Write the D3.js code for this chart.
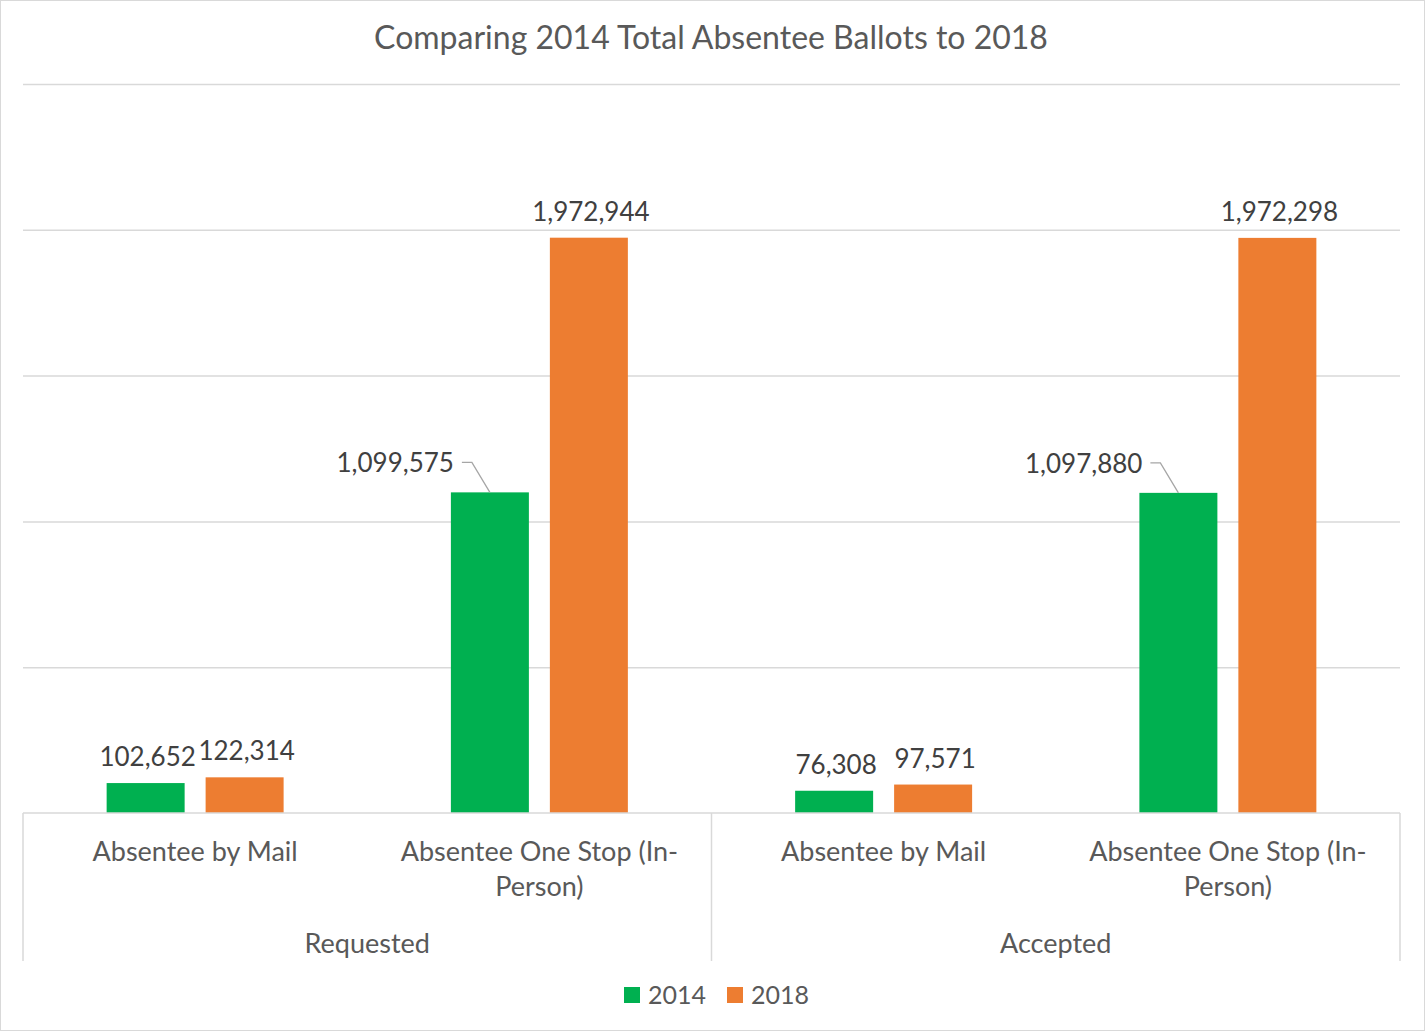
<!DOCTYPE html>
<html>
<head>
<meta charset="utf-8">
<script src="https://cdn.jsdelivr.net/npm/d3@7"></script>
<style>
  body { margin: 0; background: #fff; }
  text { font-family: Lato, "Open Sans", sans-serif; }
</style>
</head>
<body>
<div id="chart"></div>
<script>
// chart values
const groups = ["Requested", "Accepted"];
const types = ["Absentee by Mail", "Absentee One Stop (In-Person)"];
const typeLabels = [["Absentee by Mail"], ["Absentee One Stop (In-", "Person)"]];
const years = ["2014", "2018"];
const values2014 = [102652, 1099575, 76308, 1097880];
const values2018 = [122314, 1972944, 97571, 1972298];
const yTicks = [0, 500000, 1000000, 1500000, 2000000, 2500000];

const W = 1425, H = 1031;
const margin = {top: 84, right: 25, bottom: 218, left: 23},
    width = W - margin.left - margin.right,
    height = H - margin.top - margin.bottom;

const textColor = "#595959", labelColor = "#404040", gridColor = "#d9d9d9";
const color = d3.scaleOrdinal().domain(years).range(["#00b050", "#ed7d31"]);

// one row per category (group x type)
const rows = [];
groups.forEach((g, gi) => types.forEach((t, ti) => {
  const i = gi * types.length + ti;
  rows.push({key: g + "|" + t, group: g, type: t, ti: ti, "2014": values2014[i], "2018": values2018[i]});
}));

const svg0 = d3.select("#chart").append("svg")
    .attr("width", W).attr("height", H);

svg0.append("rect")
    .attr("x", 0.5).attr("y", 0.5)
    .attr("width", W - 1).attr("height", H - 1)
    .attr("fill", "#fff").attr("stroke", gridColor);

// title
svg0.append("text")
    .attr("x", 711).attr("y", 49)
    .attr("text-anchor", "middle")
    .attr("font-size", 32)
    .attr("fill", textColor)
    .text("Comparing 2014 Total Absentee Ballots to 2018");

const svg = svg0.append("g")
    .attr("transform", `translate(${margin.left},${margin.top})`);

const x = d3.scaleBand()
    .domain(rows.map(d => d.key))
    .range([0, width]);

const xSub = d3.scaleBand()
    .domain(years)
    .range([0, x.bandwidth()])
    .paddingInner(0.212)
    .paddingOuter(0.845);

const y = d3.scaleLinear()
    .domain([0, 2500000])
    .range([height, 0]);

// gridlines
svg.append("g")
    .call(d3.axisLeft(y).tickValues(yTicks.slice(1)).tickSize(-width).tickFormat(""))
    .call(g => g.select(".domain").remove())
    .call(g => g.selectAll("line").attr("stroke", gridColor).attr("stroke-width", 1.5));

// bars
const cat = svg.append("g")
  .selectAll("g")
  .data(rows)
  .join("g")
    .attr("transform", d => `translate(${x(d.key)},0)`);

cat.selectAll("rect")
  .data(d => years.map(yr => ({year: yr, value: d[yr], row: d})))
  .join("rect")
    .attr("x", d => xSub(d.year))
    .attr("y", d => y(d.value))
    .attr("width", xSub.bandwidth())
    .attr("height", d => y(0) - y(d.value))
    .attr("fill", d => color(d.year));

// data labels (2014 one stop labels sit to the left with a leader line)
const fmt = d3.format(",");
cat.selectAll("text.val")
  .data(d => years.map(yr => ({year: yr, value: d[yr], row: d})))
  .join("text")
    .attr("class", "val")
    .attr("font-size", 26)
    .attr("fill", labelColor)
    .each(function(d) {
      const cx = xSub(d.year) + xSub.bandwidth() / 2;
      const top = y(d.value);
      const t = d3.select(this);
      if (d.year === "2014" && d.row.ti === 1) {
        t.attr("x", cx - 36).attr("y", top - 20).attr("text-anchor", "end");
        d3.select(this.parentNode).append("path")
          .attr("d", `M${cx - 28},${top - 30}H${cx - 18}L${cx},${top}`)
          .attr("fill", "none").attr("stroke", "#a6a6a6").attr("stroke-width", 1.3);
      } else {
        t.attr("x", cx + 2).attr("y", top - 17).attr("text-anchor", "middle");
      }
    })
    .text(d => fmt(d.value));

// category axis
const axis = svg.append("g").attr("transform", `translate(0,${height})`);
axis.append("line")
    .attr("x1", 0).attr("x2", width)
    .attr("stroke", gridColor).attr("stroke-width", 1.5);

const sep = [0].concat(groups.map((g, gi) => x(rows[gi * types.length].key) + x.bandwidth() * types.length));
axis.selectAll("line.sep")
  .data(sep)
  .join("line")
    .attr("class", "sep")
    .attr("x1", d => d).attr("x2", d => d)
    .attr("y1", 0).attr("y2", 148)
    .attr("stroke", gridColor).attr("stroke-width", 1.5);

axis.selectAll("text.cat")
  .data(rows)
  .join("text")
    .attr("class", "cat")
    .attr("text-anchor", "middle")
    .attr("font-size", 27)
    .attr("fill", textColor)
    .attr("transform", d => `translate(${x(d.key) + x.bandwidth() / 2},48)`)
  .selectAll("tspan")
  .data(d => typeLabels[d.ti])
  .join("tspan")
    .attr("x", 0)
    .attr("dy", (d, i) => i === 0 ? 0 : 35)
    .text(d => d);

axis.selectAll("text.grp")
  .data(groups)
  .join("text")
    .attr("class", "grp")
    .attr("text-anchor", "middle")
    .attr("font-size", 27)
    .attr("fill", textColor)
    .attr("x", (g, gi) => x(rows[gi * types.length].key) + x.bandwidth() * types.length / 2)
    .attr("y", 140)
    .text(d => d);

// legend
const legend = svg0.append("g")
  .selectAll("g")
  .data(years)
  .join("g")
    .attr("transform", (d, i) => `translate(${624 + i * 103},987)`);

legend.append("rect")
    .attr("width", 16).attr("height", 16)
    .attr("fill", d => color(d));

legend.append("text")
    .attr("x", 24).attr("y", 17)
    .attr("font-size", 25)
    .attr("fill", textColor)
    .text(d => d);
</script>
</body>
</html>
